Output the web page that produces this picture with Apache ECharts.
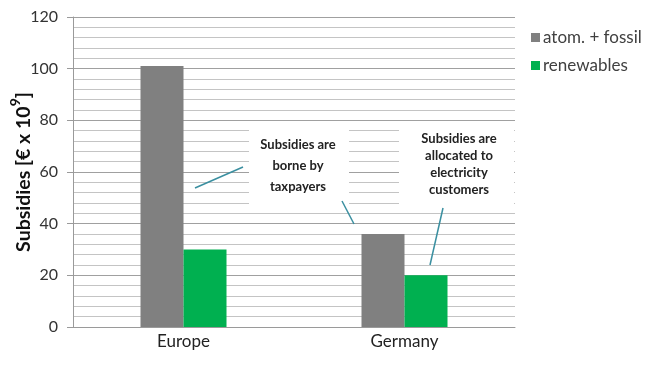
<!DOCTYPE html>
<html><head><meta charset="utf-8">
<script src="https://cdn.jsdelivr.net/npm/echarts@6/dist/echarts.min.js"></script>
<style>html,body{margin:0;padding:0;background:#fff}#c{width:650px;height:366px}</style>
</head><body><div id="c"></div>
<script>
const categories = ['Europe', 'Germany'];
const fossil = [101, 36];
const renewables = [30, 20];
const seriesNames = ['atom. + fossil', 'renewables'];
const yTicks = {min: 0, max: 120, interval: 20};
const notes = ['Subsidies are\nborne by\ntaxpayers', 'Subsidies are\nallocated to\nelectricity\ncustomers'];

const font = 'Lato, "Open Sans", sans-serif';
const chart = echarts.init(document.getElementById('c'));
const lineColor = '#3a8fa0';
chart.setOption({
  animation: false,
  backgroundColor: '#fff',
  textStyle: {fontFamily: font},
  grid: {left: 73, right: 135, top: 17, bottom: 39, outerBoundsMode: 'none', containLabel: false},
  legend: {
    orient: 'vertical', left: 531, top: 29, padding: 0, itemWidth: 9, itemHeight: 9, itemGap: 11,
    icon: 'rect',
    textStyle: {fontSize: 17, color: '#404040', fontFamily: font, padding: [0,0,0,-2]},
    data: seriesNames
  },
  xAxis: {
    type: 'category', data: categories,
    axisLine: {lineStyle: {color: '#9a9a9a', width: 1}},
    axisTick: {show: false},
    axisLabel: {fontSize: 17, color: '#222', margin: 6, fontFamily: font}
  },
  yAxis: {
    type: 'value', min: yTicks.min, max: yTicks.max, interval: yTicks.interval,
    name: '{a|Subsidies [€ x 10}{s|9}{a|]}',
    nameLocation: 'middle', nameGap: 39, nameMoveOverlap: false,
    nameTextStyle: {
      rich: {
        a: {fontSize: 19.5, fontWeight: 'bold', color: '#111', fontFamily: font, lineHeight: 22, verticalAlign: 'bottom'},
        s: {fontSize: 14, fontWeight: 'bold', color: '#111', fontFamily: font, lineHeight: 12, padding: [0,0,12,0], verticalAlign: 'bottom'}
      }
    },
    axisLine: {show: true, lineStyle: {color: '#9a9a9a'}},
    axisTick: {show: true, length: 6, lineStyle: {color: '#9a9a9a'}},
    axisLabel: {fontSize: 16, color: '#333', margin: 15, fontFamily: font},
    splitLine: {lineStyle: {color: '#a0a0a0', width: 1}},
    minorTick: {show: false, splitNumber: 5},
    minorSplitLine: {show: true, lineStyle: {color: '#c4c4c4', width: 1}}
  },
  series: [
    {name: seriesNames[0], type: 'bar', data: fossil, barWidth: 43, barGap: '0%', itemStyle: {color: '#808080'}},
    {name: seriesNames[1], type: 'bar', data: renewables, barWidth: 43, itemStyle: {color: '#00b050'}}
  ],
  graphic: [
    {type: 'rect', shape: {x: 249, y: 123, width: 100, height: 83}, style: {fill: '#fff'}, z: 10},
    {type: 'rect', shape: {x: 399, y: 123, width: 115, height: 84}, style: {fill: '#fff'}, z: 10},
    {type: 'text', x: 298, y: 166, z: 11, style: {text: notes[0], fontSize: 13, fontWeight: 'bold', fill: '#222', align: 'center', verticalAlign: 'middle', lineHeight: 21, fontFamily: font}},
    {type: 'text', x: 459, y: 164, z: 11, style: {text: notes[1], fontSize: 13, fontWeight: 'bold', fill: '#222', align: 'center', verticalAlign: 'middle', lineHeight: 17, fontFamily: font}},
    {type: 'line', z: 12, shape: {x1: 195, y1: 188, x2: 243, y2: 167}, style: {stroke: lineColor, lineWidth: 1.5}},
    {type: 'line', z: 12, shape: {x1: 342, y1: 201, x2: 354, y2: 224}, style: {stroke: lineColor, lineWidth: 1.5}},
    {type: 'line', z: 12, shape: {x1: 443, y1: 208, x2: 430, y2: 265}, style: {stroke: lineColor, lineWidth: 1.5}}
  ]
});
</script></body></html>
